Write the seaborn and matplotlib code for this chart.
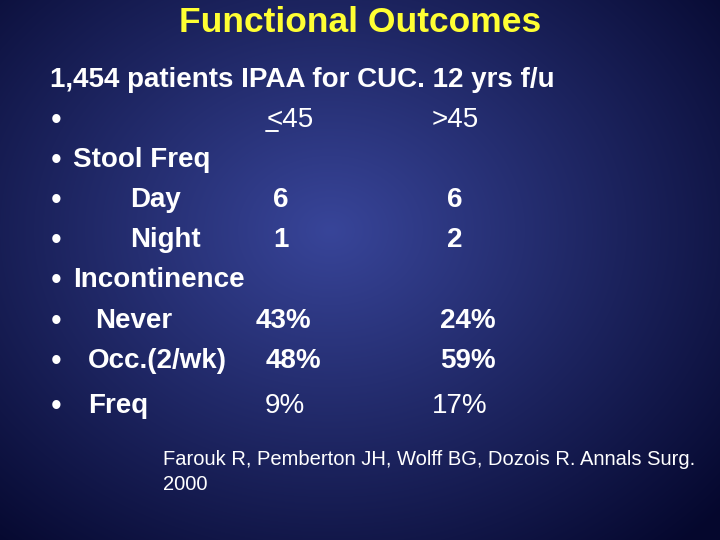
import matplotlib
matplotlib.use("Agg")
import matplotlib.pyplot as plt
import numpy as np
import seaborn as sns

sns.set_theme(style="white")
plt.rcParams["font.family"] = ["Liberation Sans", "DejaVu Sans"]

W, H = 720, 540

title = "Functional Outcomes"
header = "1,454 patients IPAA for CUC. 12 yrs f/u"
row_labels = ["", "Stool Freq", "Day", "Night", "Incontinence",
              "Never", "Occ.(2/wk)", "Freq"]
row_label_x = [73, 73, 130, 130, 73, 95, 88, 88]
col_young = ["<45", "", "6", "1", "", "43%", "48%", "9%"]
col_old = [">45", "", "6", "2", "", "24%", "59%", "17%"]
young_x = [290, 0, 281, 281, 0, 283, 293, 285]
old_x = [455, 0, 455, 455, 0, 468, 468, 460]
row_y = [120, 160, 200, 240, 280, 321, 361, 406]
bold_vals = [False, True, True, True, True, True, True, False]
citation = "Farouk R, Pemberton JH, Wolff BG, Dozois R. Annals Surg.\n2000"

fig = plt.figure(figsize=(7.2, 5.4), dpi=100)
bg = fig.add_axes([0, 0, 1, 1])
yy, xx = np.mgrid[0:H, 0:W]
r = np.sqrt(((xx - 330) / 520) ** 2 + ((yy - 230) / 420) ** 2)
t = np.clip(r, 0, 1)[..., None]
inner = np.array([0.22, 0.27, 0.60])
outer = np.array([0.02, 0.03, 0.18])
bg.imshow(inner * (1 - t) + outer * t, extent=[0, W, H, 0], aspect="auto")
bg.set_xlim(0, W)
bg.set_ylim(H, 0)
bg.axis("off")

bg.text(360, 22, title, color="#ffff33", fontsize=25.5, fontweight="bold",
        ha="center", va="center")
bg.text(50, 80, header, color="white", fontsize=20, fontweight="bold",
        ha="left", va="center")

for i, y in enumerate(row_y):
    bg.text(51, y + 1, "•", color="white", fontsize=22, ha="left", va="center")
    w = "bold" if bold_vals[i] else "normal"
    if row_labels[i]:
        bg.text(row_label_x[i], y, row_labels[i], color="white", fontsize=20,
                fontweight="bold", ha="left", va="center")
    if col_young[i]:
        bg.text(young_x[i], y, col_young[i], color="white", fontsize=20,
                fontweight=w, ha="center", va="center")
    if col_old[i]:
        bg.text(old_x[i], y, col_old[i], color="white", fontsize=20,
                fontweight=w, ha="center", va="center")

# underline under "<" to mimic "≤"
bg.plot([266, 278], [131, 131], color="white", lw=1.4)

bg.text(163, 472, citation, color="white", fontsize=14.5, ha="left",
        va="center", linespacing=1.4)

fig.savefig("out.png", dpi=100)
